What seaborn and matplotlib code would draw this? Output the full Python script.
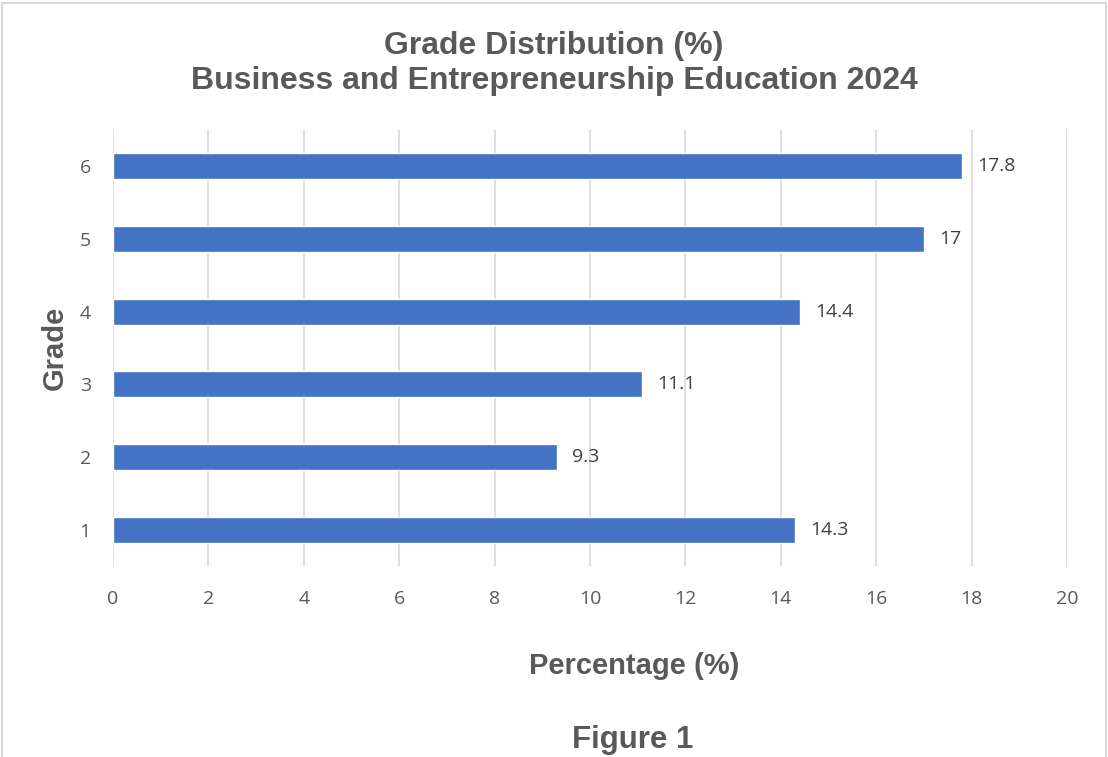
import matplotlib
matplotlib.use("Agg")
import matplotlib.pyplot as plt
import seaborn as sns
import pandas as pd
from matplotlib.lines import Line2D

grades = ["6", "5", "4", "3", "2", "1"]
percentages = [17.8, 17, 14.4, 11.1, 9.3, 14.3]
value_labels = ["17.8", "17", "14.4", "11.1", "9.3", "14.3"]
x_ticks = [0, 2, 4, 6, 8, 10, 12, 14, 16, 18, 20]

df = pd.DataFrame({"Grade": grades, "Percentage": percentages})

sns.set_theme(style="white")
plt.rcParams["font.family"] = ["Liberation Sans", "DejaVu Sans"]

fig = plt.figure(figsize=(11.08, 7.57), dpi=100)
ax = fig.add_axes([113/1108, 1-566/757, 954/1108, 436/757])

sns.barplot(data=df, x="Percentage", y="Grade", order=grades, orient="h",
            color="#4472C4", saturation=1, width=0.36, ax=ax, zorder=3)

tick_font = ["Open Sans", "DejaVu Sans"]
ax.set_xlim(0, 20)
ax.set_ylim(5.5, -0.5)
ax.set_xticks(x_ticks)
ax.set_xticklabels([str(t) for t in x_ticks])
ax.xaxis.grid(True, color="#D9D9D9", linewidth=1.2, zorder=0)
ax.yaxis.grid(False)
for s in ax.spines.values():
    s.set_visible(False)
ax.tick_params(axis="both", length=0, labelsize=14, labelcolor="#595959")
for lab in ax.get_xticklabels() + ax.get_yticklabels():
    lab.set_family(tick_font)
ax.tick_params(axis="y", pad=16)
ax.tick_params(axis="x", pad=17)

for i, (v, t) in enumerate(zip(percentages, value_labels)):
    ax.annotate(t, xy=(v, i), xytext=(15, 0), textcoords="offset pixels",
                va="center", ha="left", fontsize=14, color="#404040", family=tick_font)

ax.set_xlabel("Percentage (%)", fontsize=21, fontweight="bold", color="#595959")
ax.set_ylabel("Grade", fontsize=21, fontweight="bold", color="#595959")
ax.xaxis.set_label_coords((634-113)/954, (566-652)/436)
ax.yaxis.set_label_coords((69-113)/954, 0.5)

fig.text(0.5, 1-46/757, "Grade Distribution (%)", ha="center", va="center",
         fontsize=23, fontweight="bold", color="#595959")
fig.text(0.5, 1-81/757, "Business and Entrepreneurship Education 2024", ha="center", va="center",
         fontsize=23, fontweight="bold", color="#595959")
fig.text(633/1108, 1-740/757, "Figure 1", ha="center", va="center",
         fontsize=22.5, fontweight="bold", color="#595959")

bc = "#D9D9D9"
fig.add_artist(Line2D([2/1108, 2/1108], [0, 1-3/757], color=bc, lw=1.5, transform=fig.transFigure))
fig.add_artist(Line2D([1106/1108, 1106/1108], [0, 1-3/757], color=bc, lw=1.5, transform=fig.transFigure))
fig.add_artist(Line2D([2/1108, 1106/1108], [1-3/757, 1-3/757], color=bc, lw=1.5, transform=fig.transFigure))

fig.savefig("out.png", dpi=100)
